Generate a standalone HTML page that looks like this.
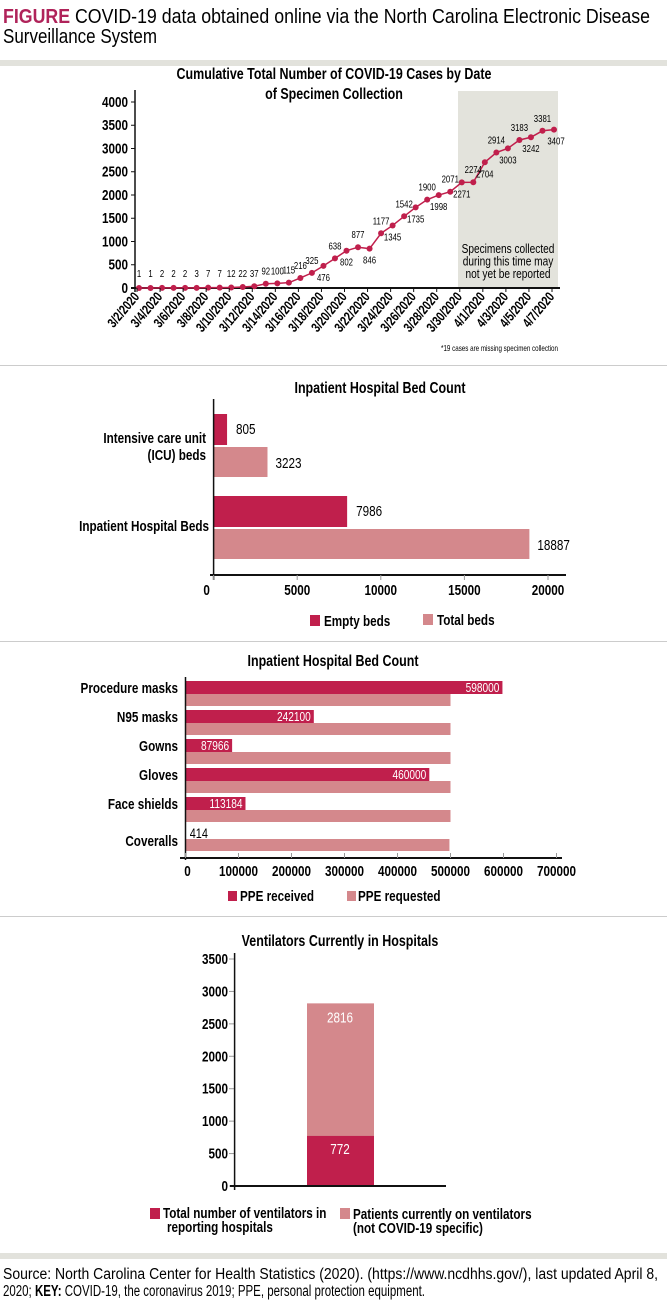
<!DOCTYPE html>
<html><head><meta charset="utf-8"><style>
body{margin:0;background:#fff;}
svg{display:block;font-family:"Liberation Sans Narrow","Liberation Sans",sans-serif;}
.b{font-weight:bold;}
</style></head><body>
<svg id="s" width="667" height="1301" viewBox="0 0 667 1301" xmlns="http://www.w3.org/2000/svg">
<text x="3" y="23" font-size="20" textLength="647" lengthAdjust="spacingAndGlyphs"><tspan font-weight="bold" fill="#b0235a">FIGURE</tspan> COVID-19 data obtained online via the North Carolina Electronic Disease</text>
<text x="3" y="43" font-size="20" textLength="154" lengthAdjust="spacingAndGlyphs">Surveillance System</text>
<rect x="0" y="60" width="667" height="6" fill="#e2e2dc"/>
<line x1="0" y1="365.5" x2="667" y2="365.5" stroke="#ccc"/>
<line x1="0" y1="641.5" x2="667" y2="641.5" stroke="#ccc"/>
<line x1="0" y1="916.5" x2="667" y2="916.5" stroke="#ccc"/>
<rect x="0" y="1253" width="667" height="6" fill="#e2e2dc"/>
<text x="3" y="1279" font-size="15.5" textLength="655" lengthAdjust="spacingAndGlyphs">Source: North Carolina Center for Health Statistics (2020). (https://www.ncdhhs.gov/), last updated April 8,</text>
<text x="3" y="1296" font-size="15.5" textLength="422" lengthAdjust="spacingAndGlyphs">2020; <tspan font-weight="bold">KEY:</tspan> COVID-19, the coronavirus 2019; PPE, personal protection equipment.</text>
<g id="c1"></g>
<g id="c2"></g>
<g id="c3"></g>
<g id="c4"></g>
</svg>
<script>
// Chart 1 data
const caseDates = ["3/2/2020","3/3","3/4/2020","3/5","3/6/2020","3/7","3/8/2020","3/9","3/10/2020","3/11","3/12/2020","3/13","3/14/2020","3/15","3/16/2020","3/17","3/18/2020","3/19","3/20/2020","3/21","3/22/2020","3/23","3/24/2020","3/25","3/26/2020","3/27","3/28/2020","3/29","3/30/2020","3/31","4/1/2020","4/2","4/3/2020","4/4","4/5/2020","4/6","4/7/2020"];
const caseValues = [1,1,2,2,2,3,7,7,12,22,37,92,100,115,216,325,476,638,802,877,846,1177,1345,1542,1735,1900,1998,2071,2271,2274,2704,2914,3003,3183,3242,3381,3407];
const caseTicks = [0,500,1000,1500,2000,2500,3000,3500,4000];
// Chart 2 data
const bedCats = ["Intensive care unit|(ICU) beds","Inpatient Hospital Beds"];
const bedEmpty = [805,7986];
const bedTotal = [3223,18887];
const bedTicks = [0,5000,10000,15000,20000];
// Chart 3 data
const ppeCats = ["Procedure masks","N95 masks","Gowns","Gloves","Face shields","Coveralls"];
const ppeReceived = [598000,242100,87966,460000,113184,414];
const ppeRequested = [500000,500000,500000,500000,500000,498000];
const ppeTicks = [0,100000,200000,300000,400000,500000,600000,700000];
// Chart 4 data
const ventTotal = [772];
const ventPatients = [2816];
const ventTicks = [0,500,1000,1500,2000,2500,3000,3500];

const NS="http://www.w3.org/2000/svg";
const DARK="#c01f4c", LIGHT="#d4888c";
function mk(p,tag,a,txt){const e=document.createElementNS(NS,tag);for(const k in a)e.setAttribute(k,a[k]);if(txt!==undefined)e.textContent=txt;p.appendChild(e);return e;}

// ---------- Chart 1 ----------
(function(){
const g=document.getElementById('c1');
const X=i=>139+i*(554-139)/(caseValues.length-1);
const Y=v=>288-v*(186/4000);
let t=mk(g,'text',{x:334,y:79,'text-anchor':'middle','font-size':16,class:'b'},'Cumulative Total Number of COVID-19 Cases by Date');

t=mk(g,'text',{x:334,y:99,'text-anchor':'middle','font-size':16,class:'b'},'of Specimen Collection');

let r=mk(g,'rect',{x:458,y:91,width:100,height:197,fill:'#e3e3dc'});

['Specimens collected','during this time may','not yet be reported'].forEach((s,k)=>{const e=mk(g,'text',{x:508,y:253+k*12.5,'text-anchor':'middle','font-size':13},s);
});
mk(g,'line',{x1:135,y1:90,x2:135,y2:292,stroke:'#111','stroke-width':1.5});
mk(g,'line',{x1:131,y1:288,x2:560,y2:288,stroke:'#111','stroke-width':2});
caseTicks.forEach(v=>{mk(g,'line',{x1:131,y1:Y(v),x2:135,y2:Y(v),stroke:'#111'});
const e=mk(g,'text',{x:128,y:Y(v)+5,'text-anchor':'end','font-size':15,class:'b'},v);
});
let d='';caseValues.forEach((v,i)=>{d+=(i?'L':'M')+X(i)+' '+Y(v);});
const pl=mk(g,'path',{d:d,fill:'none',stroke:DARK,'stroke-width':1.5});

caseValues.forEach((v,i)=>{
const c=mk(g,'circle',{cx:X(i),cy:Y(v),r:3,fill:DARK});

let below=false;
if(i>=16){below=(i%2===0);}
let ly;
if(i<16) ly=Math.min(Y(v)-9,277); else ly=below?Y(v)+15:Y(v)-9;
const lx=(i===caseValues.length-1)?X(i)+2:X(i);
const e=mk(g,'text',{x:lx,y:ly,'text-anchor':'middle','font-size':10},v);

if(i%2===0){mk(g,'line',{x1:X(i)-2,y1:288,x2:X(i)-2,y2:292,stroke:'#111'});
const xl=mk(g,'text',{x:X(i)+1,y:297,'text-anchor':'end','font-size':13.5,class:'b',transform:`rotate(-50 ${X(i)+1} 297)`},caseDates[i]);
}
});
const fn=mk(g,'text',{x:558,y:351,'text-anchor':'end','font-size':8},'*19 cases are missing specimen collection');

})();

// ---------- Chart 2 ----------
(function(){
const g=document.getElementById('c2');
const X=v=>213.6+v*(334.4/20000);
let t=mk(g,'text',{x:380,y:393,'text-anchor':'middle','font-size':16,class:'b'},'Inpatient Hospital Bed Count');

const tops=[414,496];
bedCats.forEach((c,i)=>{
const y0=tops[i];
const b1=mk(g,'rect',{x:X(0),y:y0,width:X(bedEmpty[i])-X(0),height:31,fill:DARK});

const b2=mk(g,'rect',{x:X(0),y:y0+33,width:X(bedTotal[i])-X(0),height:30,fill:LIGHT});

let e=mk(g,'text',{x:X(bedEmpty[i])+9,y:y0+20,'font-size':15},bedEmpty[i]);

e=mk(g,'text',{x:X(bedTotal[i])+8,y:y0+54,'font-size':15},bedTotal[i]);

const parts=c.split('|');
parts.forEach((p,k)=>{const l=mk(g,'text',{x:parts.length>1?206:209,y:y0+35+(parts.length>1?(k*17-6):0),'text-anchor':'end','font-size':15,class:'b'},p);
});
});
mk(g,'line',{x1:213.6,y1:399,x2:213.6,y2:580,stroke:'#111','stroke-width':1.5});
mk(g,'line',{x1:210,y1:575,x2:566,y2:575,stroke:'#111','stroke-width':2});
bedTicks.forEach(v=>{mk(g,'line',{x1:X(v),y1:575,x2:X(v),y2:580,stroke:'#999'});
const e=mk(g,'text',{x:X(v)-(v===0?7:0),y:595,'text-anchor':'middle','font-size':15,class:'b'},v);
});
let r=mk(g,'rect',{x:310,y:615,width:10,height:11,fill:DARK});
let e=mk(g,'text',{x:324,y:626,'font-size':15,class:'b'},'Empty beds');
r=mk(g,'rect',{x:423,y:614,width:10,height:11,fill:LIGHT});
e=mk(g,'text',{x:437,y:625,'font-size':15,class:'b'},'Total beds');
})();

// ---------- Chart 3 ----------
(function(){
const g=document.getElementById('c3');
const X=v=>185.5+v*(53/100000);
let t=mk(g,'text',{x:333,y:666,'text-anchor':'middle','font-size':16,class:'b'},'Inpatient Hospital Bed Count');

ppeCats.forEach((c,i)=>{
const y0=681+i*29;
if(ppeReceived[i]>20000){
const b=mk(g,'rect',{x:X(0),y:y0,width:X(ppeReceived[i])-X(0),height:13,fill:DARK});

const e=mk(g,'text',{x:X(ppeReceived[i])-3,y:y0+11,'text-anchor':'end','font-size':13,fill:'#fff'},ppeReceived[i]);

}else{
const b=mk(g,'rect',{x:X(0),y:y0,width:Math.max(0.5,X(ppeReceived[i])-X(0)),height:13,fill:DARK});

const e=mk(g,'text',{x:X(ppeReceived[i])+4,y:y0+12,'font-size':14},ppeReceived[i]);

}
const b2=mk(g,'rect',{x:X(0),y:y0+13,width:X(ppeRequested[i])-X(0),height:12,fill:LIGHT});

const l=mk(g,'text',{x:178,y:y0+(i===5?20:12),'text-anchor':'end','font-size':15,class:'b'},c);

});
mk(g,'line',{x1:185.5,y1:677,x2:185.5,y2:860,stroke:'#111','stroke-width':1.5});
mk(g,'line',{x1:180,y1:858,x2:562,y2:858,stroke:'#111','stroke-width':2});
ppeTicks.forEach(v=>{mk(g,'line',{x1:X(v),y1:853,x2:X(v),y2:858,stroke:'#999'});
const e=mk(g,'text',{x:X(v)+(v===0?2:0),y:876,'text-anchor':'middle','font-size':15,class:'b'},v);
});
let r=mk(g,'rect',{x:228,y:891,width:9,height:10,fill:DARK});
let e=mk(g,'text',{x:240,y:901,'font-size':15,class:'b'},'PPE received');
r=mk(g,'rect',{x:347,y:891,width:9,height:10,fill:LIGHT});
e=mk(g,'text',{x:358,y:901,'font-size':15,class:'b'},'PPE requested');
})();

// ---------- Chart 4 ----------
(function(){
const g=document.getElementById('c4');
const Y=v=>1186-v*(227/3500);
let t=mk(g,'text',{x:340,y:946,'text-anchor':'middle','font-size':16,class:'b'},'Ventilators Currently in Hospitals');

ventTicks.forEach(v=>{mk(g,'line',{x1:229,y1:Y(v),x2:235,y2:Y(v),stroke:'#999'});
const e=mk(g,'text',{x:228,y:Y(v)+5,'text-anchor':'end','font-size':15,class:'b'},v);
});
const b2=mk(g,'rect',{x:307,y:Y(ventPatients[0]),width:67,height:Y(0)-Y(ventPatients[0]),fill:LIGHT});

const b1=mk(g,'rect',{x:307,y:Y(ventTotal[0]),width:67,height:Y(0)-Y(ventTotal[0]),fill:DARK});

let e=mk(g,'text',{x:340,y:Y(ventPatients[0])+19,'text-anchor':'middle','font-size':15,fill:'#fff'},ventPatients[0]);

e=mk(g,'text',{x:340,y:Y(ventTotal[0])+18,'text-anchor':'middle','font-size':15,fill:'#fff'},ventTotal[0]);

mk(g,'line',{x1:234.6,y1:953,x2:234.6,y2:1190,stroke:'#111','stroke-width':1.5});
mk(g,'line',{x1:230,y1:1186,x2:446,y2:1186,stroke:'#111','stroke-width':2});
let r=mk(g,'rect',{x:150,y:1208,width:10,height:11,fill:DARK});
e=mk(g,'text',{x:163,y:1218,'font-size':15,class:'b'},'Total number of ventilators in');
e=mk(g,'text',{x:167,y:1232,'font-size':15,class:'b'},'reporting hospitals');
r=mk(g,'rect',{x:340,y:1208,width:10,height:11,fill:LIGHT});
e=mk(g,'text',{x:353,y:1219,'font-size':15,class:'b'},'Patients currently on ventilators');
e=mk(g,'text',{x:353,y:1233,'font-size':15,class:'b'},'(not COVID-19 specific)');
})();

// condense chart text horizontally (narrow font look)
document.querySelectorAll('#c1 text, #c2 text, #c3 text, #c4 text').forEach(e=>{
const x=e.getAttribute('x'), y=e.getAttribute('y');
const k=0.78;
const prev=e.getAttribute('transform')||'';
e.setAttribute('transform',`${prev} translate(${x} ${y}) scale(${k} 1) translate(${-x} ${-y})`);
});
</script>
</body></html>
